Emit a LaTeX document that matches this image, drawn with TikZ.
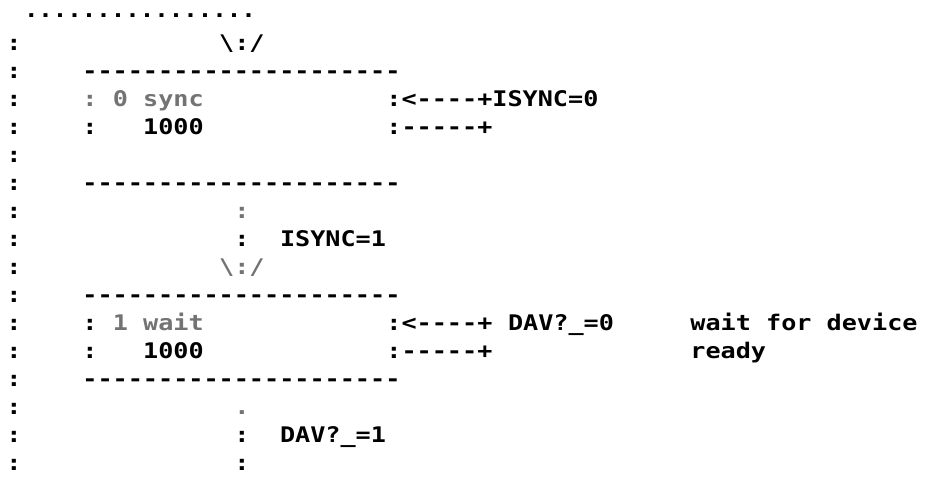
\documentclass[tikz,border=0pt]{standalone}
\usepackage{fontspec}
% dot-matrix style listing font: monospaced, slightly widened, heavy strokes
\newfontfamily\dotmono[FakeStretch=1.17,Ligatures=TeXOff]{DejaVu Sans Mono}
\newfontfamily\dotmonorule[FakeStretch=1.12,Ligatures=TeXOff]{DejaVu Sans Mono}
\begin{document}
\begin{tikzpicture}[x=1pt,y=-1pt,
  mono/.style={font=\dotmono\bfseries\fontsize{21.5}{24}\selectfont,
    inner sep=0pt, outer sep=0pt, anchor=base west},
  faint/.style={text=black!55},
  cell/.style 2 args={at={({6.4+15.2*(#1)},{22.5+28*(#2)})}}]
\useasboundingbox (0,0) rectangle (946,481);
\fill[white] (0,0) rectangle (946,481);

% top rule of dots and the left margin column
\node[mono, font=\dotmonorule\bfseries\fontsize{21.5}{24}\selectfont, at={(24,18)}] (dots) {................};
\foreach \r in {1,...,16}{
  \node[mono, cell={0}{\r}] (margin\r) {:};
}

% state 0: sync
\node[mono, cell={14}{1}] (in0) {\textbackslash:/};
\node[mono, cell={5}{2}] (s0top) {---------------------};
\node[mono, faint, cell={5}{3}] (s0l) {:};
\node[mono, faint, cell={7}{3}] (s0num) {0};
\node[mono, faint, cell={9}{3}] (s0name) {sync};
\node[mono, cell={25}{3}] (s0loopin) {:<----+ISYNC=0};
\node[mono, cell={5}{4}] (s0l2) {:};
\node[mono, cell={9}{4}] (s0val) {1000};
\node[mono, cell={25}{4}] (s0loopout) {:-----+};
\node[mono, cell={5}{6}] (s0bot) {---------------------};

% transition 0 -> 1
\node[mono, faint, cell={15}{7}] (t01a) {:};
\node[mono, cell={15}{8}] (t01b) {:};
\node[mono, cell={18}{8}] (t01lbl) {ISYNC=1};
\node[mono, faint, cell={14}{9}] (in1) {\textbackslash:/};

% state 1: wait
\node[mono, cell={5}{10}] (s1top) {---------------------};
\node[mono, cell={5}{11}] (s1l) {:};
\node[mono, faint, cell={7}{11}] (s1num) {1};
\node[mono, faint, cell={9}{11}] (s1name) {wait};
\node[mono, cell={25}{11}] (s1loopin) {:<----+};
\node[mono, cell={33}{11}] (s1cond) {DAV?\_=0};
\node[mono, cell={45}{11}] (note1) {wait for device};
\node[mono, cell={5}{12}] (s1l2) {:};
\node[mono, cell={9}{12}] (s1val) {1000};
\node[mono, cell={25}{12}] (s1loopout) {:-----+};
\node[mono, cell={45}{12}] (note2) {ready};
\node[mono, cell={5}{13}] (s1bot) {---------------------};

% transition out of state 1
\node[mono, faint, cell={15}{14}] (t12a) {.};
\node[mono, cell={15}{15}] (t12b) {:};
\node[mono, cell={18}{15}] (t12lbl) {DAV?\_=1};
\node[mono, cell={15}{16}] (t12c) {:};
\end{tikzpicture}
\end{document}
